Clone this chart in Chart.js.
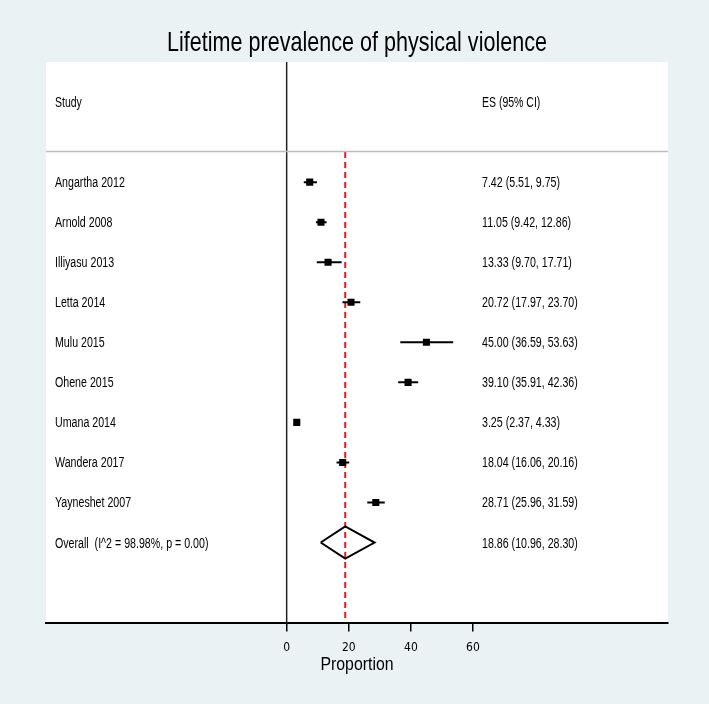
<!DOCTYPE html>
<html>
<head>
<meta charset="utf-8">
<title>Lifetime prevalence of physical violence</title>
<script src="https://cdn.jsdelivr.net/npm/chart.js@4.4.1/dist/chart.umd.min.js"></script>
<style>
  body { margin: 0; background: #eaf2f3; }
  #wrap { width: 709px; height: 704px; }
</style>
</head>
<body>
<div id="wrap"><canvas id="forestChart" width="709" height="704"></canvas></div>
<script>
// Study data (proportion, 95% CI)
const studies = ['Angartha 2012', 'Arnold 2008', 'Illiyasu 2013', 'Letta 2014', 'Mulu 2015',
                 'Ohene 2015', 'Umana 2014', 'Wandera 2017', 'Yayneshet 2007'];
const es    = [7.42, 11.05, 13.33, 20.72, 45.00, 39.10, 3.25, 18.04, 28.71];
const lower = [5.51, 9.42, 9.70, 17.97, 36.59, 35.91, 2.37, 16.06, 25.96];
const upper = [9.75, 12.86, 17.71, 23.70, 53.63, 42.36, 4.33, 20.16, 31.59];

// Pooled estimate
const overallLabel = 'Overall  (I^2 = 98.98%, p = 0.00)';
const overallES = 18.86;
const overallLower = 10.96;
const overallUpper = 28.30;

const xTicks = [0, 20, 40, 60];

const titleText = 'Lifetime prevalence of physical violence';
const axisTitle = 'Proportion';

const TICKFONT = "'DejaVu Sans Condensed', 'Liberation Sans', sans-serif";
const TEXTFONT = "'Liberation Sans', Arial, sans-serif";

const rowY = i => i + 1;              // study rows 1..9
const overallRow = studies.length + 1; // row 10
const fmt = v => v.toFixed(2);

// narrow (condensed) text, like the Stata graph font
function narrowText(ctx, text, x, y, size, sx, align) {
    ctx.save();
    ctx.font = size + 'px ' + TEXTFONT;
    ctx.fillStyle = '#000';
    ctx.textAlign = align || 'left';
    ctx.textBaseline = 'alphabetic';
    ctx.translate(x, y);
    ctx.scale(sx, 1);
    ctx.fillText(text, 0, 0);
    ctx.restore();
}

// CI whiskers, one small line per study
const ciSets = studies.map((s, i) => ({
    type: 'scatter',
    showLine: true,
    data: [{x: lower[i], y: rowY(i)}, {x: upper[i], y: rowY(i)}],
    borderColor: '#000',
    borderWidth: 2,
    pointRadius: 0,
    order: 2
}));

// White plot region, header line, row texts, titles
const forestText = {
    id: 'forestText',
    beforeDraw(chart) {
        const {ctx, chartArea: a} = chart;
        ctx.save();
        ctx.fillStyle = '#fff';
        ctx.fillRect(a.left, a.top, a.right - a.left, a.bottom - a.top);
        ctx.restore();
    },
    afterDatasetsDraw(chart) {
        const {ctx, chartArea: a, scales: {y}} = chart;
        ctx.save();
        // header separator
        ctx.strokeStyle = '#bdbdbd';
        ctx.lineWidth = 1.5;
        const yl = Math.round(y.getPixelForValue(0.22)) + 0.5;
        ctx.beginPath();
        ctx.moveTo(a.left, yl);
        ctx.lineTo(a.right, yl);
        ctx.stroke();
        ctx.restore();

        const xs = a.left + 9;
        const xe = a.left + 436;
        const base = 5;
        narrowText(ctx, 'Study', xs, y.getPixelForValue(-1) + base, 14, 0.75);
        narrowText(ctx, 'ES (95% CI)', xe, y.getPixelForValue(-1) + base, 14, 0.75);
        studies.forEach((s, i) => {
            const py = y.getPixelForValue(rowY(i)) + base;
            narrowText(ctx, s, xs, py, 14, 0.76);
            narrowText(ctx, fmt(es[i]) + ' (' + fmt(lower[i]) + ', ' + fmt(upper[i]) + ')', xe, py, 14, 0.76);
        });
        const po = y.getPixelForValue(overallRow) + base;
        narrowText(ctx, overallLabel, xs, po, 14, 0.76);
        narrowText(ctx, fmt(overallES) + ' (' + fmt(overallLower) + ', ' + fmt(overallUpper) + ')', xe, po, 14, 0.76);
    },
    afterDraw(chart) {
        const {ctx, chartArea: a} = chart;
        const cx = (a.left + a.right) / 2;
        narrowText(ctx, titleText, cx, a.top - 11, 28, 0.77, 'center');
        narrowText(ctx, axisTitle, cx, a.bottom + 47, 18, 0.88, 'center');
    }
};

const ctx = document.getElementById('forestChart').getContext('2d');
const forestChart = new Chart(ctx, {
    type: 'scatter',
    data: {
        datasets: [
            {
                // study point estimates
                data: es.map((v, i) => ({x: v, y: rowY(i)})),
                pointStyle: 'rect',
                pointRadius: 5,
                backgroundColor: '#000',
                borderColor: '#000',
                borderWidth: 0,
                order: 0
            },
            ...ciSets,
            {
                // pooled diamond
                showLine: true,
                data: [
                    {x: overallLower, y: overallRow},
                    {x: overallES, y: overallRow - 0.4},
                    {x: overallUpper, y: overallRow},
                    {x: overallES, y: overallRow + 0.4},
                    {x: overallLower, y: overallRow}
                ],
                borderColor: '#000',
                borderWidth: 2,
                pointRadius: 0,
                order: 1
            },
            {
                // pooled estimate reference line
                showLine: true,
                data: [{x: overallES, y: 0.25}, {x: overallES, y: 12}],
                borderColor: '#e3191c',
                borderWidth: 2,
                borderDash: [6, 4],
                pointRadius: 0,
                order: 5
            },
            {
                // null line
                showLine: true,
                data: [{x: 0, y: -2}, {x: 0, y: 12}],
                borderColor: '#222',
                borderWidth: 1.5,
                pointRadius: 0,
                order: 6
            }
        ]
    },
    options: {
        responsive: false,
        animation: false,
        events: [],
        layout: { padding: { left: 46, right: 41, top: 62, bottom: 40 } },
        plugins: {
            legend: { display: false },
            tooltip: { enabled: false },
            title: { display: false }
        },
        scales: {
            x: {
                type: 'linear',
                min: -77.5,
                max: 122.8,
                afterBuildTicks: axis => { axis.ticks = xTicks.map(v => ({value: v})); },
                grid: { display: true, drawOnChartArea: false, drawTicks: true, tickLength: 9, color: '#000', lineWidth: 1.5 },
                border: { display: true, color: '#000', width: 2 },
                ticks: { font: { size: 12, family: TICKFONT }, color: '#000', padding: 9 }
            },
            y: {
                type: 'linear',
                display: false,
                reverse: true,
                min: -2,
                max: 12
            }
        }
    },
    plugins: [forestText]
});
</script>
</body>
</html>
